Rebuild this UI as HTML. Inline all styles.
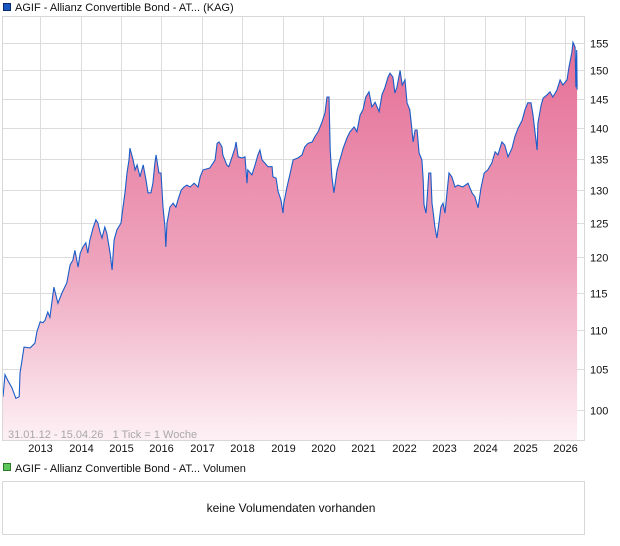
<!DOCTYPE html>
<html><head><meta charset="utf-8"><style>
html,body{margin:0;padding:0;background:#fff;}
svg{display:block;font-family:"Liberation Sans",Arial,sans-serif;}
</style></head><body>
<svg id="chart" width="620" height="546" viewBox="0 0 620 546">
<defs>
<linearGradient id="fillGrad" x1="0" y1="0" x2="0" y2="1">
<stop offset="0" stop-color="#e56e96"/>
<stop offset="0.55" stop-color="#eea3bc"/>
<stop offset="1" stop-color="#fdf1f5"/>
</linearGradient>
</defs>
<rect x="0" y="0" width="620" height="546" fill="#fff"/>
<g>
<rect x="3.5" y="3.5" width="7" height="7" fill="#1a56c0" stroke="#0a2a70" stroke-width="1"/>
<text x="15" y="11" font-size="11" fill="#111">AGIF - Allianz Convertible Bond - AT... (KAG)</text>
</g>
<g id="grid"></g>
<g id="area"></g>
<rect x="2.5" y="16.5" width="582" height="424" fill="none" stroke="#d8d8d8"/>
<g id="ylabels"></g>
<g id="xlabels"></g>
<text x="8" y="438" font-size="11" fill="#a8a8a8" xml:space="preserve" style="white-space:pre">31.01.12 - 15.04.26   1 Tick = 1 Woche</text>
<g>
<rect x="3.5" y="463.5" width="7" height="7" fill="#5cc85c" stroke="#2a7a2a" stroke-width="1"/>
<text x="15" y="472" font-size="11" fill="#111">AGIF - Allianz Convertible Bond - AT... Volumen</text>
</g>
<rect x="2.5" y="481.5" width="582" height="53" fill="#fff" stroke="#d8d8d8"/>
<text x="291" y="512" font-size="12" fill="#111" text-anchor="middle">keine Volumendaten vorhanden</text>
</svg>
<script>
const dates = [2012.08,2012.13,2012.20,2012.30,2012.40,2012.48,2012.50,2012.55,2012.60,2012.75,2012.87,2012.92,2013.00,2013.07,2013.12,2013.19,2013.24,2013.34,2013.44,2013.54,2013.66,2013.74,2013.81,2013.86,2013.94,2013.99,2014.06,2014.13,2014.18,2014.23,2014.31,2014.38,2014.43,2014.48,2014.53,2014.60,2014.65,2014.73,2014.78,2014.83,2014.90,2015.00,2015.05,2015.10,2015.15,2015.20,2015.22,2015.30,2015.35,2015.40,2015.47,2015.55,2015.62,2015.67,2015.74,2015.79,2015.84,2015.87,2015.94,2015.99,2016.04,2016.09,2016.11,2016.14,2016.21,2016.29,2016.36,2016.41,2016.49,2016.56,2016.63,2016.71,2016.81,2016.91,2016.96,2017.03,2017.20,2017.33,2017.38,2017.43,2017.50,2017.52,2017.62,2017.67,2017.75,2017.82,2017.85,2017.90,2018.00,2018.07,2018.12,2018.14,2018.24,2018.32,2018.39,2018.44,2018.49,2018.56,2018.64,2018.74,2018.76,2018.84,2018.89,2018.96,2019.01,2019.03,2019.11,2019.18,2019.26,2019.38,2019.48,2019.55,2019.63,2019.73,2019.80,2019.88,2019.98,2020.05,2020.10,2020.15,2020.18,2020.22,2020.27,2020.35,2020.42,2020.50,2020.59,2020.67,2020.77,2020.84,2020.92,2020.99,2021.06,2021.14,2021.21,2021.29,2021.39,2021.46,2021.53,2021.61,2021.66,2021.73,2021.78,2021.83,2021.91,2021.96,2022.03,2022.08,2022.15,2022.20,2022.23,2022.28,2022.33,2022.38,2022.45,2022.48,2022.50,2022.55,2022.57,2022.62,2022.67,2022.70,2022.72,2022.77,2022.82,2022.87,2022.92,2022.97,2023.02,2023.07,2023.12,2023.19,2023.27,2023.34,2023.46,2023.59,2023.69,2023.76,2023.84,2023.91,2023.99,2024.08,2024.18,2024.26,2024.33,2024.43,2024.50,2024.58,2024.68,2024.75,2024.83,2024.93,2025.00,2025.07,2025.15,2025.20,2025.25,2025.30,2025.32,2025.40,2025.45,2025.55,2025.62,2025.69,2025.79,2025.87,2025.94,2026.04,2026.09,2026.16,2026.19,2026.24,2026.26,2026.28,2026.29];
const prices = [101.6,104.3,103.6,102.7,101.4,101.6,104.5,106.1,107.8,107.7,108.3,109.8,111.1,111.0,111.3,112.4,111.7,115.8,113.6,115.0,116.4,118.9,119.6,121.0,118.6,120.6,121.5,122.1,120.6,122.5,124.3,125.5,125.0,123.7,122.8,124.4,123.5,120.6,118.2,122.5,124.0,125.0,127.4,129.6,132.7,134.8,136.7,134.8,133.2,134.0,132.1,134.0,131.6,129.6,129.6,131.1,134.3,135.6,132.7,132.7,127.4,124.4,121.5,125.0,127.4,128.0,127.4,128.5,130.0,130.5,130.8,130.5,131.1,130.5,132.1,133.2,133.5,134.8,137.5,137.7,136.9,135.6,134.0,133.7,135.3,136.7,137.7,135.3,135.1,135.3,131.1,133.2,132.4,134.0,135.6,136.4,134.8,134.3,133.7,133.7,132.1,131.9,129.8,128.5,126.5,128.0,130.5,132.4,134.8,135.1,135.6,136.9,137.5,137.7,138.6,139.4,141.1,142.6,145.3,145.3,136.4,132.1,129.6,133.2,134.8,136.7,138.3,139.4,140.2,139.4,142.2,143.1,145.3,146.2,143.6,144.4,142.8,145.7,146.9,148.8,149.5,148.8,146.0,147.0,150.0,147.4,148.3,144.3,143.1,140.0,137.7,139.7,139.7,135.9,134.8,131.6,127.8,126.5,128.0,132.7,132.7,128.0,127.0,124.4,122.8,125.0,127.4,128.0,126.5,129.6,132.7,132.1,130.5,130.8,130.5,131.1,129.6,129.0,127.3,130.3,132.7,133.2,134.3,136.1,135.6,137.7,137.2,135.3,136.7,138.6,140.0,141.3,143.1,144.3,144.3,142.2,139.2,136.4,140.8,143.9,145.1,145.7,146.2,145.3,146.5,148.3,147.4,148.3,150.6,153.2,155.1,154.2,147.0,153.7,146.6];
const yTicks = [100,105,110,115,120,125,130,135,140,145,150,155];
const yearTicks = [2013,2014,2015,2016,2017,2018,2019,2020,2021,2022,2023,2024,2025,2026];

const NS = "http://www.w3.org/2000/svg";
const plotTop = 16, plotBottom = 441, plotLeft = 3, plotRight = 585;
function xScale(t){ return 3 + (t - 2012.08) * 40.4; }
function yScale(v){ return 410 - 837.6 * Math.log(v / 100); }
function mk(tag, attrs, parent){ const e=document.createElementNS(NS,tag); for(const k in attrs) e.setAttribute(k,attrs[k]); parent.appendChild(e); return e; }

const grid = document.getElementById('grid');
const yl = document.getElementById('ylabels');
const xl = document.getElementById('xlabels');
yTicks.forEach(v=>{
  const y = Math.round(yScale(v)) + 0.5;
  const l = mk('line',{x1:plotLeft,x2:plotRight,y1:y,y2:y,stroke:'#dcdcdc','stroke-width':1},grid);
  
  
  const t = mk('text',{x:590,y:y+4,'font-size':11,fill:'#111'},yl);
  t.textContent = v;
  
  
});
yearTicks.forEach(yr=>{
  const x = Math.round(xScale(yr)) + 0.5;
  const l = mk('line',{x1:x,x2:x,y1:plotTop,y2:plotBottom,stroke:'#dcdcdc','stroke-width':1},grid);
  
  
  const t = mk('text',{x:x,y:452,'font-size':11,fill:'#111','text-anchor':'middle'},xl);
  t.textContent = yr;
  
  
});

const area = document.getElementById('area');
let d = '';
dates.forEach((t,i)=>{ d += (i?'L':'M') + xScale(t).toFixed(1) + ',' + yScale(prices[i]).toFixed(1); });
const lastX = xScale(dates[dates.length-1]).toFixed(1), firstX = xScale(dates[0]).toFixed(1);
const fillPath = mk('path',{d: d + 'L'+lastX+','+plotBottom+'L'+firstX+','+plotBottom+'Z', fill:'url(#fillGrad)'},area);


const linePath = mk('path',{d:d, fill:'none', stroke:'#1a5cc8','stroke-width':1.1,'stroke-linejoin':'miter'},area);


</script>
</body></html>
